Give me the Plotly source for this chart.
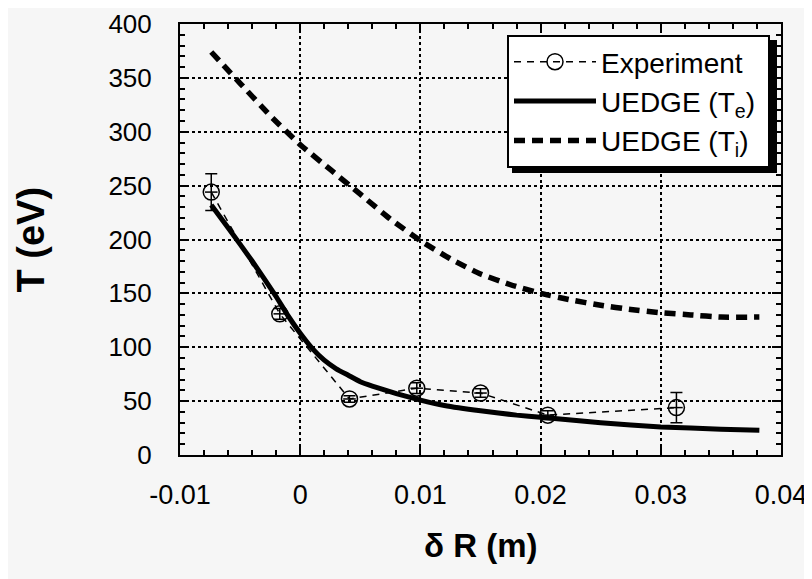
import plotly.graph_objects as go

# Experiment data
exp_x = [-0.0074, -0.0017, 0.0041, 0.0097, 0.0150, 0.0206, 0.0313]
exp_y = [244, 131, 52, 62, 57.5, 37, 44]
exp_err = [17, 5, 3, 5, 4, 4, 14]

# UEDGE Te
te_x = [-0.0074, -0.006, -0.004, -0.002, -0.001, 0.0, 0.001, 0.002, 0.003, 0.004,
        0.005, 0.006, 0.008, 0.010, 0.012, 0.015, 0.018, 0.020, 0.025, 0.030, 0.035, 0.0382]
te_y = [232, 211, 180, 147, 129, 113, 99, 88, 80, 74,
        68, 64, 57, 51, 46, 41, 37, 35, 30, 26, 24, 23]

# UEDGE Ti
ti_x = [-0.0074, -0.005, -0.0025, 0.0, 0.0025, 0.005, 0.0075, 0.010, 0.0125,
        0.015, 0.0175, 0.020, 0.0225, 0.025, 0.0275, 0.030, 0.0325, 0.035, 0.0382]
ti_y = [374, 345, 315, 288, 265, 242, 219, 199, 182,
        168, 158, 150, 144, 139, 135, 132, 130, 128, 128]

x_ticks = [-0.01, 0.0, 0.01, 0.02, 0.03, 0.04]
x_ticktext = ["-0.01", "0", "0.01", "0.02", "0.03", "0.04"]
y_ticks = [0, 50, 100, 150, 200, 250, 300, 350, 400]

BG = "#f6f6f6"
FONT = "Liberation Sans, Arial, Helvetica, sans-serif"

fig = go.Figure()

fig.add_trace(go.Scatter(
    x=exp_x, y=exp_y, mode="lines+markers", name="Experiment",
    line=dict(color="black", width=1.5, dash="7px,6px"),
    marker=dict(symbol="circle-open", size=16, color="black", line=dict(width=1.5)),
    error_y=dict(type="data", array=exp_err, visible=True, color="black", thickness=1.5, width=6),
))
fig.add_trace(go.Scatter(
    x=exp_x, y=exp_y, mode="markers", showlegend=False, hoverinfo="skip",
    marker=dict(symbol="line-ew", size=9, color="black", line=dict(width=1.5, color="black")),
))
fig.add_trace(go.Scatter(
    x=te_x, y=te_y, mode="lines", name="UEDGE (T<sub>e</sub>)\u00a0",
    line=dict(color="black", width=5, shape="spline", smoothing=0.4),
))
fig.add_trace(go.Scatter(
    x=ti_x, y=ti_y, mode="lines", name="UEDGE (T<sub>i</sub>)\u00a0",
    line=dict(color="black", width=5.5, dash="11px,7px", shape="spline", smoothing=0.4),
))

# page body adds ~8px offset; reference plot area spans x 180-781, y 24-455
OFF = 8
W, H = 812 - OFF, 579 - OFF
L, T = 180 - OFF, 24 - OFF
R = OFF + W - 781
B = OFF + H - 455
pw, ph = W - L - R, H - T - B

def px_x(p):
    return (p - 180) / pw

def px_y(p):
    return (455 - p) / ph

# legend shadow
fig.add_shape(type="rect", xref="paper", yref="paper",
              x0=px_x(512), x1=px_x(777), y0=px_y(173), y1=px_y(40),
              fillcolor="black", line=dict(width=0), layer="above")

axis_common = dict(
    showline=True, linecolor="black", linewidth=2, mirror="allticks",
    ticks="inside", ticklen=9, tickwidth=2, tickcolor="black",
    showgrid=True, gridcolor="black", gridwidth=2, griddash="dot",
    zeroline=False, automargin=False,
)

fig.update_xaxes(
    range=[-0.01, 0.04], tickvals=x_ticks, ticktext=x_ticktext,
    tickfont=dict(family=FONT, size=27, color="black"),
    ticklabelstandoff=15,
    minor=dict(dtick=0.002, ticklen=5, ticks="inside", tickcolor="black", tickwidth=2, showgrid=False),
    **axis_common,
)
fig.update_yaxes(
    range=[0, 400], tickvals=y_ticks,
    tickfont=dict(family=FONT, size=26, color="black"),
    ticklabelstandoff=21,
    minor=dict(dtick=10, ticklen=5, ticks="inside", tickcolor="black", tickwidth=2, showgrid=False),
    **axis_common,
)

fig.add_annotation(text="<b>T (eV)</b>", xref="paper", yref="paper", x=0, y=0.5,
                   xshift=30 - 180, xanchor="center", yanchor="middle", textangle=-90,
                   showarrow=False, font=dict(family=FONT, size=38, color="black"))
fig.add_annotation(text="<b>\u03b4 R (m)</b>", xref="paper", yref="paper", x=0.5, y=0,
                   yshift=-(545 - 455), xanchor="center", yanchor="middle",
                   showarrow=False, font=dict(family=FONT, size=33, color="black"))

fig.update_layout(
    width=W, height=H,
    margin=dict(l=L, r=R, t=T, b=B, autoexpand=False),
    paper_bgcolor=BG, plot_bgcolor=BG,
    font=dict(family=FONT, color="black"),
    showlegend=True,
    legend=dict(
        x=px_x(507), y=px_y(35), xanchor="left", yanchor="top",
        bgcolor="white", bordercolor="black", borderwidth=2,
        font=dict(family=FONT, size=28, color="black"),
        itemwidth=82, tracegroupgap=0,
    ),
)

fig.write_html("out.html")
